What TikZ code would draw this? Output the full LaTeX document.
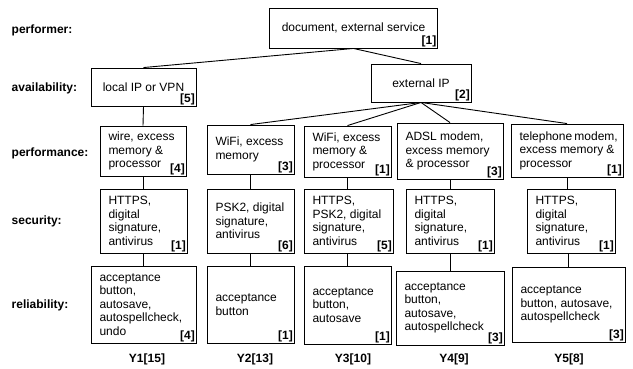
\documentclass[tikz,border=0pt]{standalone}
\usepackage{fontspec}
\setmainfont{Liberation Sans}

\begin{document}
\begin{tikzpicture}[x=1pt,y=-1pt,
	every node/.style={font=\fontsize{12}{13.5}\selectfont},
	box/.style 2 args={draw,line width=0.9pt,minimum width=#1pt,minimum height=#2pt,inner xsep=8.5pt,inner ysep=0pt,align=flush left,
		execute at begin node={\hyphenpenalty=10000\exhyphenpenalty=10000\hbadness=10000\hfuzz=20pt},
		/utils/exec={\pgfmathsetmacro\boxtw{#1-17}},text width=\boxtw pt},
	cbox/.style 2 args={draw,line width=0.9pt,minimum width=#1pt,minimum height=#2pt,align=center},
	num/.style={label={[font=\fontsize{12}{13.5}\selectfont\bfseries,inner sep=1.5pt,anchor=south east]south east:{[#1]}}},
	rowlab/.style={font=\fontsize{12}{13.5}\selectfont\bfseries,anchor=west,inner sep=0pt},
	total/.style={font=\fontsize{12}{13.5}\selectfont\bfseries},
	link/.style={line width=0.9pt}]
	\useasboundingbox (0,0) rectangle (633,368);
	% row captions
	\node[rowlab] (lperformer) at (11.5,30) {performer:};
	\node[rowlab] (lavail) at (11.5,88) {availability:};
	\node[rowlab] (lperform) at (11.5,153) {performance:};
	\node[rowlab] (lsecur) at (11.5,221) {security:};
	\node[rowlab] (lrelia) at (11.5,305) {reliability:};
	% upper levels
	\node[cbox={168}{40},num=1] (perf) at (353.5,28) {document, external service};
	\node[cbox={105}{38},num=5] (avloc) at (143.5,87) {local IP or VPN};
	\node[cbox={100}{38},num=2] (avext) at (421,83) {external IP};
	% performance
	\node[box={86}{50},num=4] (p1) at (143,151) {wire, excess\\memory \&\\processor};
	\node[box={87}{49},num=3] (p2) at (250.5,149.5) {WiFi, excess\\memory};
	\node[box={87}{51},num=1] (p3) at (347.5,151.5) {WiFi, excess\\memory \&\\processor};
	\node[box={106}{56},num=3] (p4) at (450,151) {ADSL modem,\\excess memory\\\& processor};
	\node[box={112}{53},num=1] (p5) at (567,150.5) {telephone~modem,\\excess~memory~\&\\processor};
	% security
	\node[box={87}{64},num=1] (s1) at (143.5,221) {HTTPS,\\digital\\signature,\\antivirus};
	\node[box={87}{64},num=6] (s2) at (250.5,221) {PSK2, digital\\signature,\\antivirus};
	\node[box={89}{64},num=5] (s3) at (348.5,221) {HTTPS,\\PSK2, digital\\signature,\\antivirus};
	\node[box={88}{64},num=1] (s4) at (450,221) {HTTPS,\\digital\\signature,\\antivirus};
	\node[box={88}{64},num=1] (s5) at (571,221) {HTTPS,\\digital\\signature,\\antivirus};
	% reliability
	\node[box={105}{77},num=4] (r1) at (143.5,304.5) {acceptance\\button,\\autosave,\\autospellcheck,\\undo};
	\node[box={87}{77},num=1] (r2) at (250.5,304.5) {acceptance\\button};
	\node[box={87}{78},num=1] (r3) at (347.5,305) {acceptance\\button,\\autosave};
	\node[box={108}{74},num=3] (r4) at (450,308) {acceptance\\button,\\autosave,\\autospellcheck};
	\node[box={113}{75},num=3] (r5) at (568.5,304.5) {acceptance\\button, autosave,\\autospellcheck};
	% totals
	\node[total] (t1) at (147,359) {Y1[15]};
	\node[total] (t2) at (255,359) {Y2[13]};
	\node[total] (t3) at (353,359) {Y3[10]};
	\node[total] (t4) at (454,359) {Y4[9]};
	\node[total] (t5) at (569,359) {Y5[8]};
	% connectors
	\draw[link] (perf.south) -- (avloc.north);
	\draw[link] (perf.south) -- (avext.north);
	\draw[link] (avloc.south) -- (p1.north);
	\foreach \i in {2,...,5}
		\draw[link] (avext.south) -- (p\i.north);
	\foreach \i in {1,...,5}{
		\draw[link] (p\i.south) -- (p\i.south |- s\i.north);
		\draw[link] (r\i.north |- s\i.south) -- (r\i.north);
	}
\end{tikzpicture}
\end{document}
